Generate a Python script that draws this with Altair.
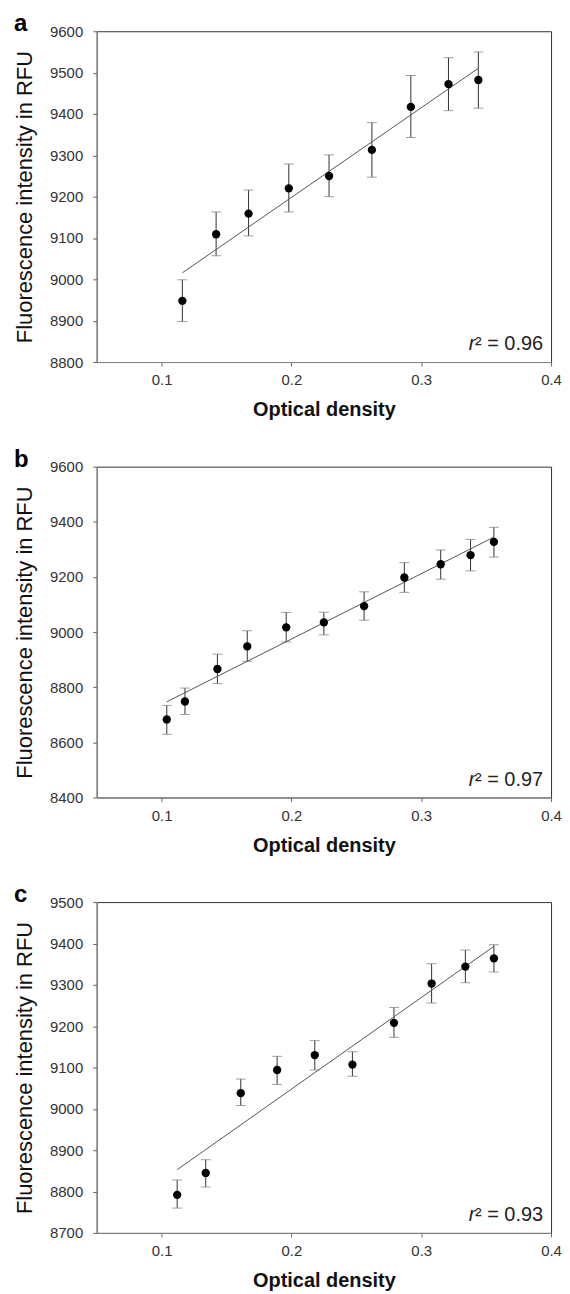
import altair as alt
import pandas as pd

# ---- data ----
panel_letters = ["a", "b", "c"]
r2_texts = ["0.96", "0.97", "0.93"]

a_od = [0.116, 0.142, 0.167, 0.198, 0.229, 0.262, 0.292, 0.321, 0.344]
a_rfu = [8948, 9109, 9159, 9220, 9250, 9313, 9417, 9472, 9482]
a_lo = [8898, 9057, 9105, 9163, 9200, 9247, 9343, 9408, 9414]
a_hi = [8999, 9163, 9216, 9279, 9301, 9379, 9493, 9536, 9550]

b_od = [0.104, 0.118, 0.143, 0.166, 0.196, 0.225, 0.256, 0.287, 0.315, 0.338, 0.356]
b_rfu = [8683, 8748, 8866, 8948, 9017, 9035, 9094, 9198, 9246, 9279, 9327]
b_lo = [8629, 8701, 8813, 8894, 8964, 8990, 9043, 9144, 9192, 9222, 9272]
b_hi = [8734, 8797, 8920, 9005, 9071, 9072, 9146, 9252, 9298, 9336, 9380]

c_od = [0.112, 0.134, 0.161, 0.189, 0.218, 0.247, 0.279, 0.308, 0.334, 0.356]
c_rfu = [8792, 8845, 9038, 9094, 9130, 9107, 9208, 9303, 9344, 9364]
c_lo = [8760, 8811, 9008, 9059, 9094, 9079, 9173, 9256, 9305, 9331]
c_hi = [8828, 8877, 9072, 9127, 9165, 9138, 9245, 9351, 9384, 9397]

y_domains = [[8800, 9600], [8400, 9600], [8700, 9500]]
y_ticks = [
    [8800, 8900, 9000, 9100, 9200, 9300, 9400, 9500, 9600],
    [8400, 8600, 8800, 9000, 9200, 9400, 9600],
    [8700, 8800, 8900, 9000, 9100, 9200, 9300, 9400, 9500],
]
x_domain = [0.05, 0.4]
x_ticks = [0.1, 0.2, 0.3, 0.4]

W, H = 456, 332
FONT = "Liberation Sans"


def make_panel(od, rfu, lo, hi, ydom, yt, letter, r2):
    df = pd.DataFrame({"od": od, "rfu": rfu, "lo": lo, "hi": hi})
    x = alt.X("od:Q", scale=alt.Scale(domain=x_domain, nice=False, zero=False),
              axis=alt.Axis(values=x_ticks, format=".1f", title="Optical density",
                            titleFontSize=20, titleFontWeight="bold",
                            labelFontSize=15, tickSize=4, labelPadding=7,
                            labelFlush=False, titlePadding=12, grid=False))
    y = alt.Y("rfu:Q", scale=alt.Scale(domain=ydom, nice=False, zero=False),
              axis=alt.Axis(values=yt, format="d", title="Fluorescence intensity in RFU",
                            titleFontSize=22, titleFontWeight="normal",
                            labelFontSize=15, tickSize=4, labelPadding=10,
                            labelFlush=False, titlePadding=13, grid=False))
    base = alt.Chart(df)
    rules = base.mark_rule(color="#333333", strokeWidth=1).encode(
        x=x, y=alt.Y("lo:Q"), y2="hi:Q")
    cap_lo = base.mark_tick(orient="horizontal", size=10, thickness=1, color="#777777").encode(
        x=x, y=alt.Y("lo:Q"))
    cap_hi = base.mark_tick(orient="horizontal", size=10, thickness=1, color="#777777").encode(
        x=x, y=alt.Y("hi:Q"))
    fit = base.transform_regression("od", "rfu").mark_line(
        color="#555555", strokeWidth=1).encode(x=x, y=y)
    pts = base.mark_circle(size=70, color="black", opacity=1).encode(x=x, y=y)

    lab_df = pd.DataFrame({"t": [letter]})
    letter_txt = alt.Chart(lab_df).mark_text(
        font=FONT, fontSize=24, fontWeight="bold", align="left", baseline="alphabetic",
        color="black").encode(x=alt.value(-83), y=alt.value(0), text="t:N")

    r_df = pd.DataFrame({"t": ["r"]})
    rest_df = pd.DataFrame({"t": ["\u00b2 = " + r2]})
    r_txt = alt.Chart(r_df).mark_text(
        font=FONT, fontSize=20, fontStyle="italic", align="right", baseline="alphabetic",
        color="#222222").encode(x=alt.value(W - 8 - 68), y=alt.value(H - 12), text="t:N")
    rest_txt = alt.Chart(rest_df).mark_text(
        font=FONT, fontSize=20, align="right", baseline="alphabetic",
        color="#222222").encode(x=alt.value(W - 8), y=alt.value(H - 12), text="t:N")

    return alt.layer(rules, cap_lo, cap_hi, fit, pts, letter_txt, r_txt, rest_txt).properties(
        width=W, height=H)


panels = [
    make_panel(a_od, a_rfu, a_lo, a_hi, y_domains[0], y_ticks[0], panel_letters[0], r2_texts[0]),
    make_panel(b_od, b_rfu, b_lo, b_hi, y_domains[1], y_ticks[1], panel_letters[1], r2_texts[1]),
    make_panel(c_od, c_rfu, c_lo, c_hi, y_domains[2], y_ticks[2], panel_letters[2], r2_texts[2]),
]

chart = alt.vconcat(*panels, spacing=26).properties(
    padding={"left": 5, "top": 1, "right": 0, "bottom": 0}
).configure(font=FONT).configure_view(
    stroke="#333333", strokeWidth=1
).configure_axis(
    domainColor="#888888", tickColor="#666666", labelColor="#333333",
    titleColor="#111111", labelFont=FONT, titleFont=FONT
)

chart.save("out.html", embed_options={"renderer": "svg", "actions": False})
